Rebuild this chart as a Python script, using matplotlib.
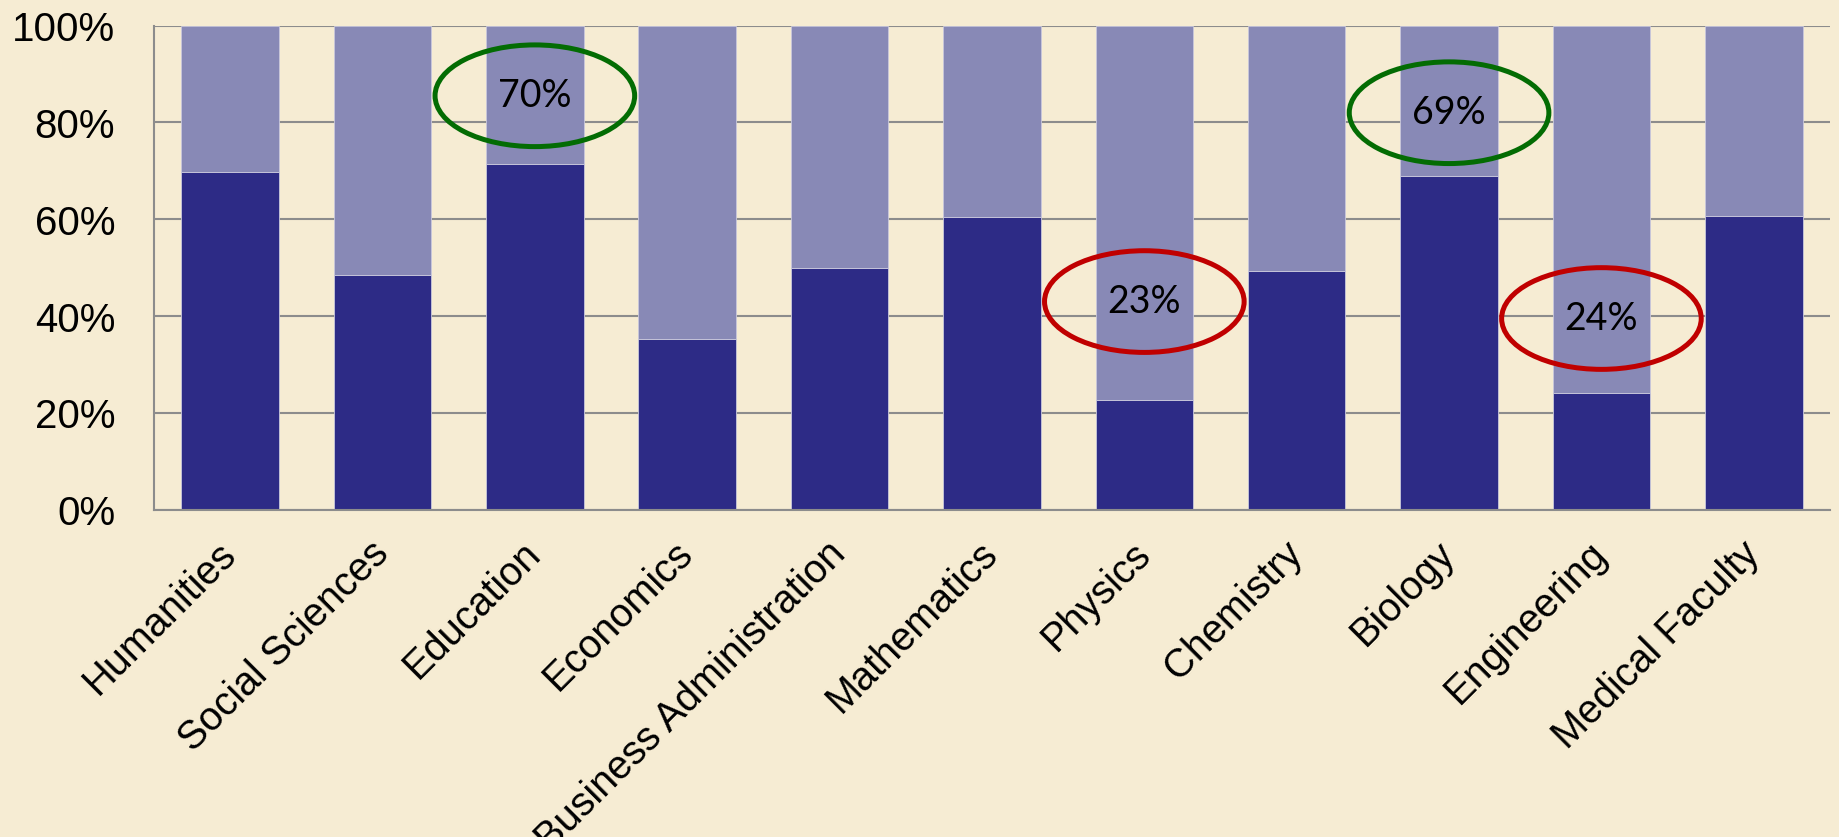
import matplotlib.pyplot as plt
from matplotlib.patches import Ellipse
from matplotlib.ticker import PercentFormatter

categories = ["Humanities", "Social Sciences", "Education", "Economics",
              "Business Administration", "Mathematics", "Physics", "Chemistry",
              "Biology", "Engineering", "Medical Faculty"]
share = [69.8, 48.5, 71.5, 35.2, 50.0, 60.4, 22.7, 49.4, 68.9, 24.1, 60.6]
rest = [100 - v for v in share]

# highlighted bars
mark_idx = [2, 6, 8, 9]
mark_text = ["70%", "23%", "69%", "24%"]
mark_y = [85.5, 43.0, 82.0, 39.5]
mark_color = ["#036c03", "#c00000", "#036c03", "#c00000"]

bg = "#f6ecd3"
dark = "#2d2b86"
light = "#8889b6"
grid = "#8c8c8c"

fig = plt.figure(figsize=(18.39, 8.375), dpi=100, facecolor=bg)
ax = fig.add_axes([0.0837, 0.3907, 0.9114, 0.5782], facecolor=bg)

x = range(len(categories))
ax.bar(x, share, width=0.64, color=dark, edgecolor="#c9c8dc", linewidth=0.6, zorder=2)
ax.bar(x, rest, bottom=share, width=0.64, color=light, edgecolor="#c9c8dc", linewidth=0.6, zorder=2)

ax.set_xlim(-0.5, len(categories) - 0.5)
ax.set_ylim(0, 100)
ax.set_yticks([0, 20, 40, 60, 80, 100])
ax.yaxis.set_major_formatter(PercentFormatter(decimals=0))
ax.yaxis.grid(True, color=grid, linewidth=1.5, zorder=0)
ax.set_axisbelow(True)

for s in ["top", "right"]:
    ax.spines[s].set_visible(False)
for s in ["left", "bottom"]:
    ax.spines[s].set_color(grid)
    ax.spines[s].set_linewidth(1.5)

ax.set_xticks(list(x))
ax.set_xticklabels(categories, rotation=45, ha="right", va="center",
                   rotation_mode="anchor", fontfamily="Liberation Sans", fontsize=28.5)
ax.tick_params(axis="x", length=0, pad=27)
ax.tick_params(axis="y", length=0, pad=28, labelsize=29)
for t in ax.get_yticklabels():
    t.set_fontfamily("Liberation Sans")

for i, txt, yc, col in zip(mark_idx, mark_text, mark_y, mark_color):
    ax.add_patch(Ellipse((i, yc), 1.31, 21, fill=False, edgecolor=col,
                         linewidth=3.6, zorder=4, clip_on=False))
    ax.text(i, yc, txt, ha="center", va="center", fontsize=27,
            fontfamily="Lato", color="black", zorder=5)

fig.savefig("out.png", dpi=100, facecolor=bg)
